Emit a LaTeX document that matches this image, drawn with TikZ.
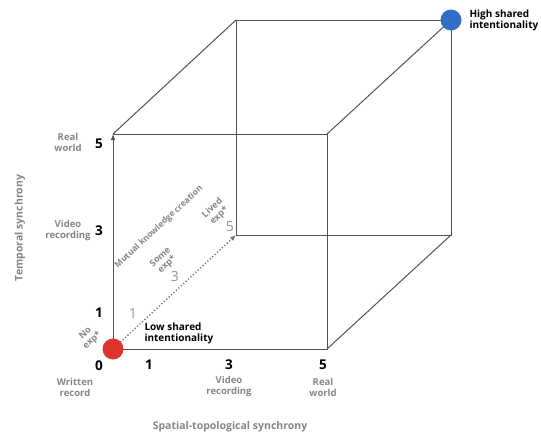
\documentclass[tikz,border=0pt]{standalone}
\usepackage{fontspec}
\setmainfont{Open Sans}
\usetikzlibrary{arrows.meta}

\begin{document}
\begin{tikzpicture}[x=1pt,y=-1pt]
  \tikzstyle{edge}=[draw=black!68,line width=1pt]
  \tikzstyle{num}=[font=\fontsize{13.5}{13.5}\selectfont\bfseries]
  \tikzstyle{lab}=[font=\fontsize{9.5}{11}\selectfont\bfseries,text=black!48,align=center]
  \tikzstyle{diag}=[font=\fontsize{9}{10}\selectfont\bfseries,text=black!48,align=center,rotate=43]
  \tikzstyle{axis}=[font=\fontsize{10.5}{11}\selectfont\bfseries,text=black!48]
  \tikzstyle{tick}=[font=\fontsize{14}{14}\selectfont,text=black!42]
  \tikzstyle{title}=[font=\fontsize{10}{11}\selectfont\bfseries,align=left,anchor=west]
  \tikzstyle{dot}=[circle,inner sep=0pt,minimum size=21pt]
\useasboundingbox (0,0) rectangle (541,434);
% cube corners
\coordinate (fbl) at (113,349);
\coordinate (fbr) at (327,349);
\coordinate (ftl) at (113,134);
\coordinate (ftr) at (327,134);
\coordinate (bbl) at (236,235);
\coordinate (bbr) at (451,235);
\coordinate (btl) at (236,20);
\coordinate (btr) at (451,20);
% front face
\draw[edge] (fbl) -- (fbr) -- (ftr) -- (ftl);
\draw[edge,-{Latex[length=6pt,width=4.5pt]}] (fbl) -- (ftl);
% back face
\draw[edge] (btl) -- (btr) -- (bbr) -- (bbl) -- cycle;
\draw[edge] (ftl) -- (btl);
\draw[edge] (ftr) -- (btr);
\draw[edge] (fbr) -- (bbr);
% diagonal
\draw[edge,draw=black!55,line width=1.3pt,dotted,-{Latex[length=6pt,width=5pt]}] (fbl) -- (bbl);
\node[dot,fill={rgb,255:red,222;green,52;blue,48}] (low) at (fbl) {};
\node[dot,fill={rgb,255:red,50;green,110;blue,200}] (high) at (btr) {};
\node[title] (lowlab) at (141,333) {Low shared\\intentionality};
\node[title] (highlab) at (466,20) {High shared\\intentionality};
% vertical axis
\node[num] (v5) at (99,144) {5};
\node[num] (v3) at (99,231) {3};
\node[num] (v1) at (99,313) {1};
\node[num] (v0) at (99,366) {0};
\node[lab] (vreal) at (68,142) {Real\\world};
\node[lab] (vvideo) at (68,231) {Video\\recording};
\node[lab] (vwritten) at (75,387) {Written\\record};
\node[axis,rotate=90] (vtitle) at (20,228) {Temporal synchrony};
% horizontal axis
\node[num] (h1) at (149,365) {1};
\node[num] (h3) at (229,365) {3};
\node[num] (h5) at (323,365) {5};
\node[lab] (hvideo) at (229,387) {Video\\recording};
\node[lab] (hreal) at (323,387) {Real\\world};
\node[axis] (htitle) at (230,427) {Spatial-topological synchrony};
% diagonal axis
\node[tick] (d1) at (133,313) {1};
\node[tick] (d3) at (175,276) {3};
\node[tick] (d5) at (230,227) {5};
\node[diag] (dno) at (89,337) {No\\exp*};
\node[diag] (dsome) at (164,261) {Some\\exp*};
\node[diag] (dlived) at (216,212) {Lived\\exp*};
\node[diag,font=\fontsize{8.5}{9.5}\selectfont\bfseries] (dtitle) at (159,227) {Mutual knowledge creation};
\end{tikzpicture}
\end{document}
